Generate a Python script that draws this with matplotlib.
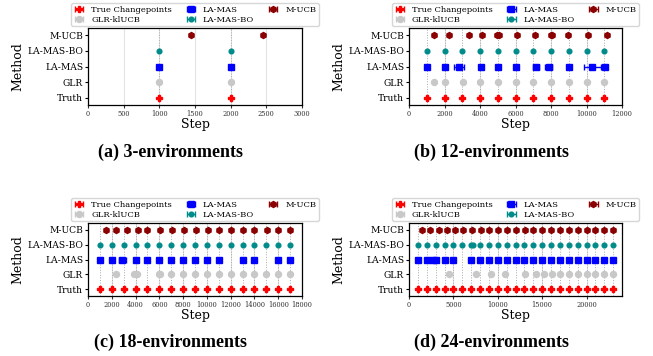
import matplotlib
matplotlib.use("Agg")
import matplotlib.pyplot as plt
import numpy as np
import warnings
warnings.filterwarnings("ignore")

plt.rcParams['font.family'] = ['DejaVu Serif']

methods = ["Truth", "GLR", "LA-MAS", "LA-MAS-BO", "M-UCB"]
legend_names = ["True Changepoints", "GLR-klUCB", "LA-MAS", "LA-MAS-BO", "M-UCB"]
colors = ["#ff0000", "#c8c8c8", "#0000ff", "#008b8b", "#8b0000"]
markers = ["P", "o", "s", "o", "h"]
msizes = [3.8, 4.3, 4.3, 3.4, 4.3]

# ---- (a) 3 environments ----
a_truth = [1000, 2000]
a_glr = [1000, 2000]
a_lamas = [1000, 2000]
a_lamas_err = [0, 0]
a_lamasbo = [1000, 2000]
a_mucb = [1450, 2450]

# ---- (b) 12 environments ----
b_truth = [1000, 2000, 3000, 4000, 5000, 6000, 7000, 8000, 9000, 10000, 11000]
b_glr = [1400, 2050, 3050, 4000, 5000, 6000, 7000, 8000, 9000, 10000, 11000]
b_lamas = [1000, 2000, 2820, 4030, 5000, 6000, 7150, 7870, 9000, 10330, 11040]
b_lamas_err = [0, 0, 270, 0, 0, 0, 180, 200, 0, 470, 0]
b_lamasbo = [1000, 2000, 3000, 4000, 5000, 6000, 7000, 8000, 9000, 10000, 11000]
b_mucb = [1400, 2270, 3380, 4130, 4980, 5050, 6080, 7080, 8000, 8070, 8980, 10070, 11140]

# ---- (c) 18 environments ----
c_truth = [1000, 2000, 3000, 4000, 5000, 6000, 7000, 8000, 9000, 10000,
           11000, 12000, 13000, 14000, 15000, 16000, 17000]
c_glr = [2390, 3850, 4130, 5960, 6080, 7000, 8000, 9000, 10000, 11000,
         12000, 13000, 14000, 15000, 16000, 17000]
c_lamas = [1000, 2000, 2900, 4050, 5000, 6000, 7000, 8000, 9000, 10000,
           11000, 13000, 14000, 16000, 17000]
c_lamas_err = [0, 0, 300, 0, 0, 0, 0, 0, 0, 0, 0, 0, 0, 0, 0]
c_lamasbo = [1000, 2000, 3000, 4000, 5000, 6000, 7000, 8000, 9000, 10000,
             11000, 12000, 13000, 14000, 15000, 16000, 17000]
c_mucb = [1490, 2330, 3320, 4220, 4980, 6070, 7060, 8040, 9080, 10070,
          11050, 12040, 13020, 14000, 15020, 15980, 16960]

# ---- (d) 24 environments ----
d_truth = [1000, 2000, 3000, 4000, 5000, 6000, 7000, 8000, 9000, 10000, 11000, 12000,
           13000, 14000, 15000, 16000, 17000, 18000, 19000, 20000, 21000, 22000, 23000]
d_glr = [4550, 7500, 9200, 10800, 13080, 14280, 15200, 16080, 17020, 18030,
         19010, 20030, 21000, 22000, 23000]
d_lamas = [1000, 2000, 2750, 3000, 4000, 5000, 7000, 8000, 9000, 10000, 11000, 12000,
           13000, 14000, 15000, 16000, 17000, 18000, 19000, 20000, 21000, 22000, 23000]
d_lamas_err = [0, 0, 150, 0, 0, 0, 0, 0, 0, 0, 0, 0, 0, 0, 0, 0, 0, 0, 0, 0, 0, 0, 0]
d_lamasbo = [1000, 2000, 3000, 4000, 5000, 6000, 7000, 7250, 8000, 9000, 10000, 11000, 12000,
             13000, 14000, 15000, 16000, 17000, 18000, 19000, 20000, 21000, 22000, 23000]
d_mucb = [1430, 2370, 3350, 4270, 5170, 6050, 7060, 8060, 9020, 10070, 11050, 12000,
          13040, 14020, 15030, 16030, 17020, 18000, 19000, 20030, 21000, 22000, 23000]

panels = [
    dict(n=3, truth=a_truth, glr=a_glr, lamas=a_lamas, err=a_lamas_err, bo=a_lamasbo, mucb=a_mucb,
         xticks=np.arange(0, 3001, 500), cap="(a) 3-environments"),
    dict(n=12, truth=b_truth, glr=b_glr, lamas=b_lamas, err=b_lamas_err, bo=b_lamasbo, mucb=b_mucb,
         xticks=np.arange(0, 12001, 2000), cap="(b) 12-environments"),
    dict(n=18, truth=c_truth, glr=c_glr, lamas=c_lamas, err=c_lamas_err, bo=c_lamasbo, mucb=c_mucb,
         xticks=np.arange(0, 18001, 2000), cap="(c) 18-environments"),
    dict(n=24, truth=d_truth, glr=d_glr, lamas=d_lamas, err=d_lamas_err, bo=d_lamasbo, mucb=d_mucb,
         xticks=np.arange(0, 20001, 5000), cap="(d) 24-environments"),
]

W, H = 653, 356
fig = plt.figure(figsize=(W / 100, H / 100), dpi=100)

# pixel boxes (left, top, right, bottom)
boxes = [(88, 28, 302, 105), (409, 28, 622, 105), (88, 223, 302, 296), (409, 223, 622, 296)]
cap_pos = [(171, 152), (492, 152), (171, 342), (492, 342)]

for p, (l, t, r, b), (cx, cy) in zip(panels, boxes, cap_pos):
    ax = fig.add_axes([l / W, 1 - b / H, (r - l) / W, (b - t) / H])
    ax.set_xlim(0, p["n"] * 1000)
    ax.set_ylim(-0.45, 4.45)
    ax.set_xticks(p["xticks"])
    ax.grid(axis='x', color='#e3e3e3', linewidth=0.8, zorder=0)
    ax.set_axisbelow(True)
    for cp in p["truth"]:
        ax.axvline(cp, color='#aaaaaa', linestyle=':', linewidth=0.7, zorder=1)
    series = [(p["truth"], None), (p["glr"], None), (p["lamas"], p["err"]), (p["bo"], None), (p["mucb"], None)]
    for i, (xs, err) in enumerate(series):
        ys = np.full(len(xs), i)
        if err is None:
            xerr = np.full(len(xs), np.nan)
        else:
            xerr = np.array(err, dtype=float)
            xerr[xerr == 0] = np.nan
        ax.errorbar(xs, ys, xerr=xerr, fmt=markers[i], color=colors[i], ms=msizes[i],
                    capsize=2, elinewidth=1.0, capthick=1.0, label=legend_names[i], zorder=3)
    ax.set_yticks(range(5))
    ax.set_yticklabels(methods, fontsize=6.6)
    ax.tick_params(axis='x', labelsize=4.8, length=2, pad=1.5, colors='#333333', labelcolor='#333333')
    ax.tick_params(axis='y', length=2, pad=1.5)
    ax.set_xlabel("Step", fontsize=9, labelpad=0)
    ax.set_ylabel("Method", fontsize=9, labelpad=2)
    for s in ax.spines.values():
        s.set_linewidth(0.9)
    leg = ax.legend(loc='lower center', bbox_to_anchor=(0.5, 0.97), ncol=3, fontsize=6,
                    frameon=True, columnspacing=1.6, handletextpad=0.8, borderpad=0.3,
                    labelspacing=0.2, handlelength=1.3)
    leg.get_frame().set_edgecolor('#cccccc')
    fig.text(cx / W, 1 - cy / H, p["cap"], ha='center', va='center', fontsize=13,
             fontweight='bold', family='Liberation Serif')

fig.savefig("out.png", dpi=100)
